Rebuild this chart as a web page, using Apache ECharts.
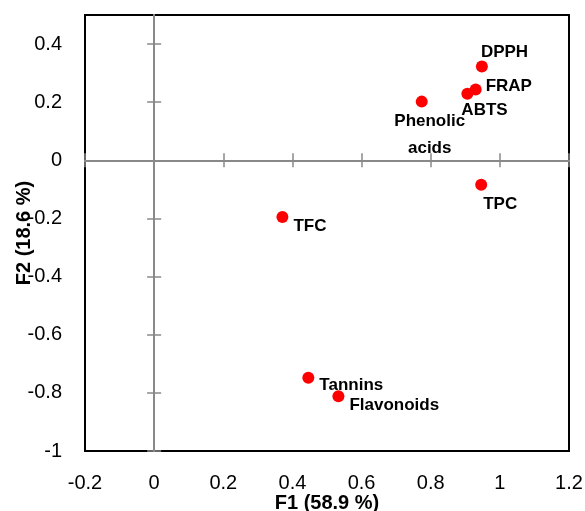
<!DOCTYPE html>
<html>
<head>
<meta charset="utf-8">
<script src="https://cdn.jsdelivr.net/npm/echarts@6/dist/echarts.min.js"></script>
<style>
  html, body { margin: 0; padding: 0; background: #fff; }
  #chart { width: 585px; height: 511px; }
</style>
</head>
<body>
<div id="chart"></div>
<script>
// variables (PCA loadings)
const names = ['DPPH', 'FRAP', 'ABTS', 'Phenolic\nacids', 'TPC', 'TFC', 'Tannins', 'Flavonoids'];
const f1 = [0.948, 0.930, 0.906, 0.774, 0.946, 0.371, 0.446, 0.533];
const f2 = [0.323, 0.244, 0.229, 0.202, -0.084, -0.195, -0.748, -0.812];

// tick values
const xTicks = [-0.2, 0, 0.2, 0.4, 0.6, 0.8, 1, 1.2];
const yTicks = [-1, -0.8, -0.6, -0.4, -0.2, 0, 0.2, 0.4];

// where each point label sits (offset from the point)
const labelPlace = {
  'DPPH': { offset: [-1, -14], align: 'left' },
  'FRAP': { offset: [10, -3], align: 'left' },
  'ABTS': { offset: [-6, 17], align: 'left' },
  'Phenolic\nacids': { offset: [8, 33], align: 'center' },
  'TPC': { offset: [2, 20], align: 'left' },
  'TFC': { offset: [11, 9], align: 'left' },
  'Tannins': { offset: [11, 8], align: 'left' },
  'Flavonoids': { offset: [11, 9], align: 'left' }
};

const gray = '#898989';
const fontTick = 'Liberation Sans';

const chart = echarts.init(document.getElementById('chart'), null, { renderer: 'canvas' });

// axis sitting on zero with crossing ticks (one inward, one outward)
function zeroX(inside) {
  return {
    type: 'value', min: -0.2, max: 1.2, interval: 0.2,
    axisLine: { show: true, onZero: true, onZeroAxisIndex: 0, lineStyle: { color: gray, width: 2 } },
    axisTick: { show: true, inside: inside, length: 7, customValues: xTicks, lineStyle: { color: gray, width: 1.5 } },
    axisLabel: { show: false },
    splitLine: { show: false }
  };
}
function zeroY(inside) {
  return {
    type: 'value', min: -1, max: 0.5,
    axisLine: { show: true, onZero: true, onZeroAxisIndex: 0, lineStyle: { color: gray, width: 2 } },
    axisTick: { show: true, inside: inside, length: 7, customValues: yTicks, lineStyle: { color: gray, width: 1.5 } },
    axisLabel: { show: false },
    splitLine: { show: false }
  };
}

const points = names.map(function (n, i) {
  const p = labelPlace[n];
  return {
    name: n,
    value: [f1[i], f2[i]],
    label: { offset: p.offset, align: p.align }
  };
});

chart.setOption({
  animation: false,
  grid: {
    left: 85, right: 16, top: 15, bottom: 60,
    containLabel: false, outerBoundsMode: 'none',
    show: true, borderColor: '#000', borderWidth: 2, backgroundColor: 'transparent'
  },
  xAxis: [
    {
      type: 'value', min: -0.2, max: 1.2, interval: 0.2, position: 'bottom',
      name: 'F1 (58.9 %)', nameLocation: 'middle', nameGap: 42, nameMoveOverlap: false,
      nameTextStyle: { fontFamily: fontTick, fontWeight: 'bold', fontSize: 20, color: '#000' },
      axisLine: { show: false, onZero: false },
      axisTick: { show: false },
      axisLabel: { fontFamily: fontTick, fontSize: 20, color: '#000', margin: 22 },
      splitLine: { show: false }
    },
    zeroX(true),
    zeroX(false)
  ],
  yAxis: [
    {
      type: 'value', min: -1, max: 0.5, position: 'left',
      name: 'F2 (18.6 %)', nameLocation: 'middle', nameGap: 51, nameMoveOverlap: false,
      nameTextStyle: { fontFamily: fontTick, fontWeight: 'bold', fontSize: 20, color: '#000' },
      axisLine: { show: false, onZero: false },
      axisTick: { show: false },
      axisLabel: { fontFamily: fontTick, fontSize: 20, color: '#000', margin: 23, customValues: yTicks },
      splitLine: { show: false }
    },
    zeroY(true),
    zeroY(false)
  ],
  series: [
    {
      type: 'scatter',
      xAxisIndex: 0,
      yAxisIndex: 0,
      symbol: 'circle',
      symbolSize: 12,
      itemStyle: { color: '#ff0000', opacity: 1 },
      label: {
        show: true,
        position: 'inside',
        verticalAlign: 'middle',
        formatter: '{b}',
        fontFamily: 'Liberation Sans',
        fontWeight: 'bold',
        fontSize: 17,
        lineHeight: 27,
        color: '#000',
        opacity: 1
      },
      emphasis: { disabled: true },
      data: points
    }
  ]
});
</script>
</body>
</html>
